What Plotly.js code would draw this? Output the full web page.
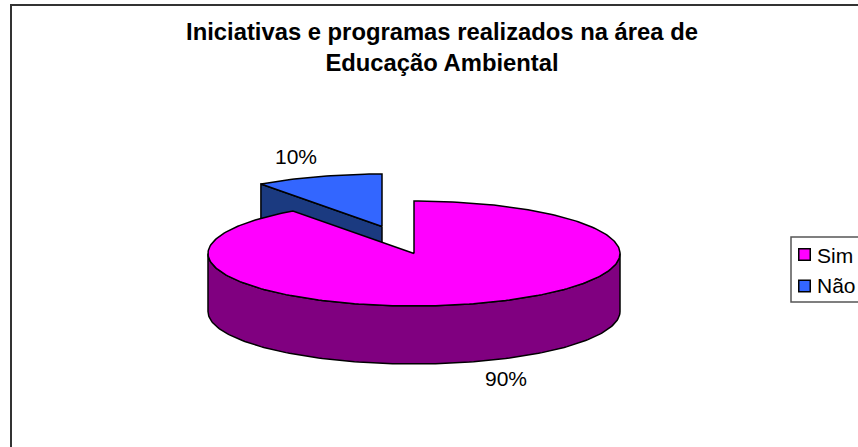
<!DOCTYPE html>
<html>
<head>
<meta charset="utf-8">
<script src="https://cdn.plot.ly/plotly-3.0.1.min.js"></script>
<style>html,body{margin:0;padding:0;background:#fff}#c{width:858px;height:447px}</style>
</head>
<body>
<div id="c"></div>
<script>
const categories = ['Sim', 'Não'];
const values = [90, 10];
const labels = ['90%', '10%'];
const topColors = ['#ff00ff', '#3366ff'];
const wallColors = ['#800080', '#1b3a80'];

const cx = 414, cy = 253.5, rx = 206, ry = 52.5, depth = 58;
const blueShift = [-32, -27];
const total = values[0] + values[1];

function rim(ox, oy, share) {
  const t = share / total * 2 * Math.PI;
  return [ox + rx * Math.sin(t), oy - ry * Math.cos(t)];
}
function arc(ox, oy, from, to) {
  const pts = [];
  const n = Math.max(2, Math.round(Math.abs(to - from) * 3));
  for (let i = 0; i <= n; i++) pts.push(rim(ox, oy, from + (to - from) * i / n));
  return pts;
}
function poly(pts, fill, name, lw) {
  return {
    type: 'scatter', mode: 'lines', x: pts.map(p => p[0]), y: pts.map(p => p[1]),
    fill: 'toself', fillcolor: fill, line: {color: '#000', width: lw || 1.5},
    hoverinfo: 'skip', showlegend: false, name: name
  };
}

const bx = cx + blueShift[0], by = cy + blueShift[1];
const sim = values[0];
const bRim = rim(bx, by, sim);
const blueWall = poly([[bx, by], bRim, [bRim[0], bRim[1] + depth], [bx, by + depth], [bx, by]], wallColors[1], 'Não parede');
const blueTop = poly([[bx, by]].concat(arc(bx, by, sim, total)).concat([[bx, by]]), topColors[1], 'Não');

// front wall of the large slice: the visible half of the rim, extruded downward
const front = arc(cx, cy, total / 4, total * 3 / 4);
const simWall = poly(front.concat(front.slice().reverse().map(p => [p[0], p[1] + depth])).concat([front[0]]), wallColors[0], 'Sim parede');
const simTop = poly([[cx, cy]].concat(arc(cx, cy, 0, sim)).concat([[cx, cy]]), topColors[0], 'Sim');

const traces = [blueWall, blueTop, simWall, simTop];

// legend frame and keys
const legendLeft = 791, legendTop = 237, legendBottom = 302;
const keyX = 804.5, keySize = 11.5, keyY = [254.5, 286], keyTextX = 815;
const keyShapes = categories.map((c, i) => ({
  type: 'rect', xref: 'x', yref: 'y',
  x0: keyX - keySize / 2, x1: keyX + keySize / 2, y0: keyY[i] - keySize / 2, y1: keyY[i] + keySize / 2,
  fillcolor: topColors[i], line: {color: '#000', width: 1.5}, layer: 'above'
}));
const keyTexts = categories.map((c, i) => ({
  x: keyTextX, y: keyY[i] + (i === 0 ? 0.5 : -0.5), xref: 'x', yref: 'y', xanchor: 'left', yanchor: 'middle',
  text: c, showarrow: false, font: {size: 21, color: '#000'}
}));

const layout = {
  width: 858, height: 447,
  margin: {l: 0, r: 0, t: 0, b: 0, autoexpand: false},
  paper_bgcolor: '#fff', plot_bgcolor: '#fff',
  font: {family: '"Liberation Sans", Arial, sans-serif', color: '#000'},
  title: {
    text: 'Iniciativas e programas realizados na área de<br>Educação Ambiental',
    font: {size: 23.8, color: '#000', family: '"Liberation Sans", Arial, sans-serif', weight: 'bold'},
    x: 442 / 858, xanchor: 'center', xref: 'paper', y: 0.91, yanchor: 'middle'
  },
  xaxis: {range: [0, 858], visible: false, fixedrange: true},
  yaxis: {range: [447, 0], visible: false, fixedrange: true},
  showlegend: false,
  shapes: [
    {type: 'rect', xref: 'x', yref: 'y', x0: 11, x1: 1000, y0: 5, y1: 1000, line: {color: '#333', width: 2}, fillcolor: 'rgba(0,0,0,0)', layer: 'below'},
    {type: 'rect', xref: 'x', yref: 'y', x0: legendLeft, x1: 1000, y0: legendTop, y1: legendBottom, line: {color: '#555', width: 1.5}, fillcolor: '#fff', layer: 'above'}
  ].concat(keyShapes),
  annotations: [
    {x: 506, y: 378, xref: 'x', yref: 'y', text: labels[0], showarrow: false, font: {size: 21, color: '#000'}},
    {x: 296, y: 156, xref: 'x', yref: 'y', text: labels[1], showarrow: false, font: {size: 21, color: '#000'}}
  ].concat(keyTexts)
};
Plotly.newPlot('c', traces, layout, {displayModeBar: false, staticPlot: true});
</script>
</body>
</html>
